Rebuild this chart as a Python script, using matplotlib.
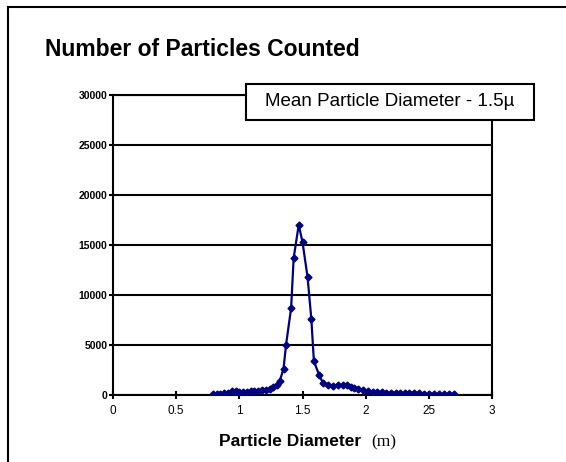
import matplotlib
matplotlib.use("Agg")
import matplotlib.pyplot as plt
from matplotlib.patches import Rectangle

plt.rcParams['font.family'] = ['Liberation Sans', 'DejaVu Sans']

# particle diameter (um) and counts
diameter = [0.79, 0.82, 0.85, 0.88, 0.91, 0.94, 0.97, 1.00, 1.03, 1.06,
            1.09, 1.12, 1.15, 1.18, 1.21, 1.24, 1.27, 1.30, 1.32, 1.35,
            1.37, 1.41, 1.43, 1.47, 1.50, 1.54, 1.57, 1.59, 1.63, 1.66,
            1.70, 1.74, 1.78, 1.82, 1.85, 1.88, 1.91, 1.94, 1.98, 2.02,
            2.06, 2.09, 2.13, 2.16, 2.20, 2.24, 2.27, 2.31, 2.34, 2.38,
            2.42, 2.46, 2.50, 2.54, 2.58, 2.62, 2.66, 2.70]
counts = [100, 100, 150, 200, 250, 400, 450, 350, 350, 350,
          400, 400, 450, 500, 550, 600, 800, 1000, 1400, 2650,
          5050, 8700, 13700, 17000, 15300, 11800, 7600, 3400, 2050, 1250,
          1050, 950, 1000, 1000, 1000, 800, 700, 650, 500, 400,
          350, 350, 300, 250, 250, 250, 250, 200, 250, 250,
          200, 150, 100, 100, 100, 100, 100, 100]

x_ticks = [0, 0.5, 1, 1.5, 2, 2.5, 3]
x_labels = ["0", "0.5", "1", "1.5", "2", "25", "3"]
y_ticks = [0, 5000, 10000, 15000, 20000, 25000, 30000]

fig = plt.figure(figsize=(5.66, 4.62), dpi=100)
W, H = 566, 462

# outer frame (only top and left edges visible)
fig.patches.append(Rectangle((8 / W, -0.2), 1.2, (H - 7) / H + 0.2,
                             transform=fig.transFigure, fill=False,
                             edgecolor='black', lw=1.5))

ax = fig.add_axes([113 / W, (H - 395) / H, (492 - 113) / W, 300 / H])
ax.plot(diameter, counts, color='#000080', lw=1.6, marker='D',
        markersize=3.5, zorder=3)

ax.set_xlim(0, 3)
ax.set_ylim(0, 30000)
ax.set_xticks(x_ticks)
ax.set_xticklabels(x_labels, fontsize=8.5)
ax.set_yticks(y_ticks)
ax.set_yticklabels([str(v) for v in y_ticks], fontsize=7.5, fontweight='bold')
ax.tick_params(axis='x', direction='inout', length=6, width=1.5, pad=4)
ax.tick_params(axis='y', direction='out', length=3, width=1.5, pad=1)
for s in ax.spines.values():
    s.set_linewidth(1.5)
ax.grid(axis='y', color='black', lw=1.5)
ax.set_axisbelow(True)

fig.text(45 / W, 1 - 50 / H, "Number of Particles Counted", fontsize=16.5,
         fontweight='bold', va='center', ha='left')

fig.text(290 / W, 1 - 442 / H, "Particle Diameter", fontsize=12.5,
         fontweight='bold', va='center', ha='center')
fig.text(371 / W, 1 - 442 / H, "(m)", fontsize=12.5,
         family=['Liberation Serif'], va='center', ha='left')

fig.patches.append(Rectangle((246 / W, 1 - 120 / H), (534 - 246) / W, 36 / H,
                             transform=fig.transFigure, facecolor='white',
                             edgecolor='black', lw=1.5, zorder=5))
box_text = fig.text(390 / W, 1 - 102 / H, "Mean Particle Diameter - 1.5\u00b5",
                    fontsize=13.5, va='center', ha='center')
box_text.set_zorder(6)

fig.savefig("out.png", dpi=100)
